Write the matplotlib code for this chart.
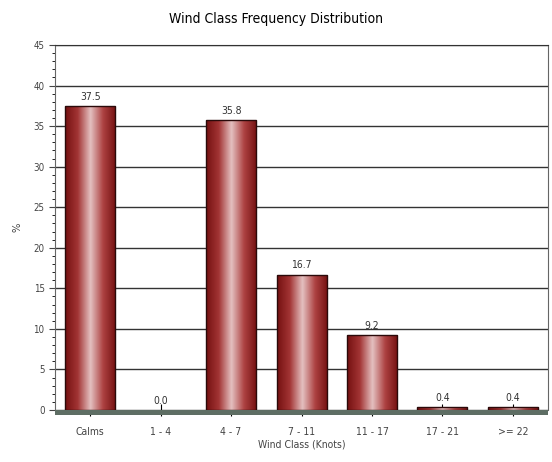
import numpy as np
import matplotlib.pyplot as plt
from matplotlib.colors import LinearSegmentedColormap
from matplotlib.patches import Rectangle
from matplotlib.ticker import MultipleLocator

plt.rcParams['font.family'] = ['DejaVu Sans']
plt.rcParams['font.stretch'] = 'condensed'

classes = ['Calms', '1 - 4', '4 - 7', '7 - 11', '11 - 17', '17 - 21', '>= 22']
freq = [37.5, 0.0, 35.8, 16.7, 9.2, 0.4, 0.4]
labels = ['37.5', '0.0', '35.8', '16.7', '9.2', '0.4', '0.4']

fig = plt.figure(figsize=(5.52, 4.62), dpi=100)
ax = fig.add_axes([0.0996, 0.1126, 0.8934, 0.79])

x = np.arange(len(classes))
bw = 0.71
ax.set_xlim(-0.5, len(classes) - 0.5)
ax.set_ylim(0, 45)

# cylinder-like shading across each bar
cmap = LinearSegmentedColormap.from_list(
    'cyl', ['#741010', '#a23434', '#e4c0c0', '#ad4242', '#741010'])
grad = np.linspace(0, 1, 256).reshape(1, -1)

for xi, v in zip(x, freq):
    if v <= 0:
        continue
    rect = Rectangle((xi - bw / 2, 0), bw, v, facecolor='none',
                     edgecolor='#2a0a0a', linewidth=1.0, zorder=4)
    ax.add_patch(rect)
    im = ax.imshow(grad, cmap=cmap, aspect='auto', zorder=3,
                   extent=(xi - bw / 2, xi + bw / 2, 0, v))
    im.set_clip_path(rect)

for xi, v, t in zip(x, freq, labels):
    ax.text(xi, v + 0.5, t, ha='center', va='bottom', fontsize=7.5, color='#333333')

ax.set_xlim(-0.5, len(classes) - 0.5)
ax.set_ylim(0, 45)
ax.yaxis.set_major_locator(MultipleLocator(5))
ax.yaxis.set_minor_locator(MultipleLocator(1))
ax.grid(axis='y', which='major', color='#333333', linewidth=1.0, zorder=0)
ax.set_axisbelow(True)
ax.set_xticks(x)
ax.set_xticklabels(classes, fontsize=7.5, color='#444444')
ax.tick_params(axis='y', labelsize=7, colors='#444444', length=4)
ax.tick_params(axis='y', which='minor', length=2)
ax.tick_params(axis='x', length=8, direction='inout', pad=8)

for s in ['left', 'right']:
    ax.spines[s].set_color('#666666')
    ax.spines[s].set_linewidth(0.8)
ax.spines['top'].set_color('#333333')
ax.spines['bottom'].set_visible(False)

# floor band under the bars
ax.add_patch(Rectangle((0, -0.013), 1, 0.013, transform=ax.transAxes,
                       facecolor='#5e6e64', edgecolor='none', clip_on=False, zorder=5))

ax.set_ylabel('%', fontsize=8, color='#444444', labelpad=8)
ax.set_xlabel('Wind Class (Knots)', fontsize=7.5, color='#444444', labelpad=2)
fig.suptitle('Wind Class Frequency Distribution', fontsize=10, y=0.975)

fig.savefig('out.png', dpi=100)
